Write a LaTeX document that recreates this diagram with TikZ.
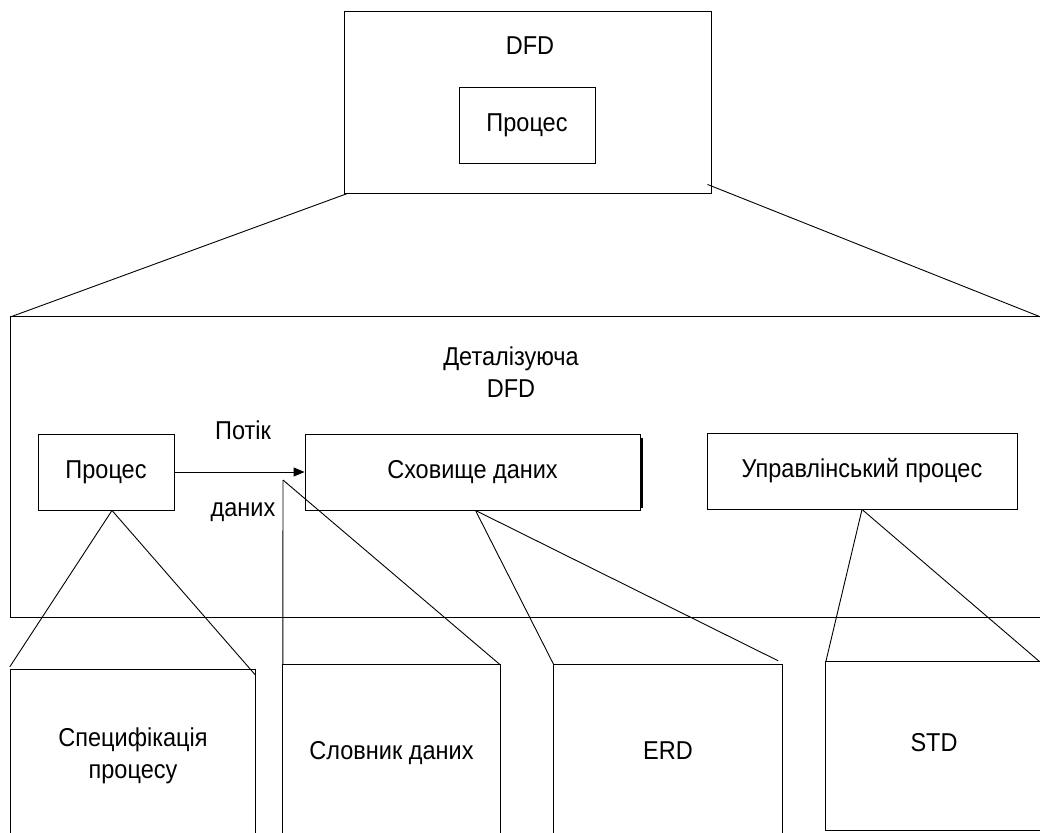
\documentclass[tikz,border=0pt]{standalone}
\usepackage{fontspec}
\setmainfont{Liberation Sans}
\usetikzlibrary{arrows.meta,calc}
% labels are set slightly taller than the font's natural shape
\newcommand{\tallish}[1]{\scalebox{1}[1.1]{\begin{tabular}{@{}c@{}}#1\end{tabular}}}
\begin{document}
\begin{tikzpicture}[x=1pt,y=-1pt,
  every node/.style={font=\fontsize{23.5}{29}\selectfont,inner sep=0pt},
  box/.style={draw,line width=0.9pt},
  frame/.style={},
  link/.style={line width=0.9pt},
  flow/.style={line width=0.9pt,-{Triangle[length=11pt,width=9pt]}}]
\useasboundingbox (0,0) rectangle (1040,832);

% context level
\node[box,minimum width=367pt,minimum height=182pt] (dfd) at (527.5,102) {};
\node (dfdtitle) at (530,48) {\tallish{DFD}};
\node[box,minimum width=136pt,minimum height=76pt] (topproc) at (527,125) {\tallish{Процес}};

% detailed diagram frame (open on the right)
\node[frame,minimum width=1031pt,minimum height=300pt] (detail) at (526.5,467) {};
\draw[link] (detail.north east) -- (detail.north west) -- (detail.south west) -- (detail.south east);
\node (dettitle) at (511,375) {\tallish{Деталізуюча\\DFD}};

\draw[link] ($(dfd.south west)+(4,0)$) -- (detail.north west);
\draw[link] ($(dfd.south east)+(-4,-9)$) -- ($(detail.north east)+(-2,0)$);

% elements of the detailed diagram
\node[box,minimum width=136pt,minimum height=76pt] (proc) at (106,472) {\tallish{Процес}};
\node[box,minimum width=335pt,minimum height=76pt] (store) at (472.5,472) {\tallish{Сховище даних}};
\node[box,minimum width=310pt,minimum height=76pt] (ctrl) at (862,471) {\tallish{Управлінський процес}};
\draw[line width=3pt] ($(store.north east)+(1.5,4)$) -- ($(store.south east)+(1.5,-2)$);

\draw[flow] (proc.east) -- (store.west);
\node (flowtop) at (243,433) {\tallish{Потік}};
\node (flowbot) at (243,510) {\tallish{даних}};

% specification level (boxes run off the bottom)
\node[frame,minimum width=244pt,minimum height=172pt] (spec) at (133,756) {\tallish{Специфікація\\процесу}};
\draw[link] (spec.south west) -- (spec.north west) -- (spec.north east) -- (spec.south east);
\node[frame,minimum width=217pt,minimum height=177pt] (dict) at (391.5,753.5) {\tallish{Словник даних}};
\draw[link] (dict.south west) -- (dict.north west) -- (dict.north east) -- (dict.south east);
\node[frame,minimum width=228pt,minimum height=177pt] (erd) at (668,753.5) {\tallish{ERD}};
\draw[link] (erd.south west) -- (erd.north west) -- (erd.north east) -- (erd.south east);
\node[frame,minimum width=228pt,minimum height=168pt] (std) at (940,746) {};
\draw[link] (std.north east) -- (std.north west) -- (std.south west) -- (std.south east);
\node (stdlabel) at (934,745) {\tallish{STD}};

% decomposition connectors
\coordinate (procfoot) at ($(proc.south)+(6,0)$);
\draw[link] (procfoot) -- ($(spec.north west)+(-1,-3)$);
\draw[link] (procfoot) -- ($(spec.north east)+(0,5)$);

\coordinate (flowfoot) at (283,480);
\draw[link] (flowfoot) -- (dict.north west);
\draw[link] (flowfoot) -- (dict.north east);

\coordinate (storefoot) at ($(store.south)+(3,0)$);
\draw[link] (storefoot) -- (erd.north west);
\draw[link] (storefoot) -- ($(erd.north east)+(-4,-4)$);

\draw[link] (ctrl.south) -- (std.north west);
\draw[link] (ctrl.south) -- ($(std.north west)+(214,0)$);
\end{tikzpicture}
\end{document}
